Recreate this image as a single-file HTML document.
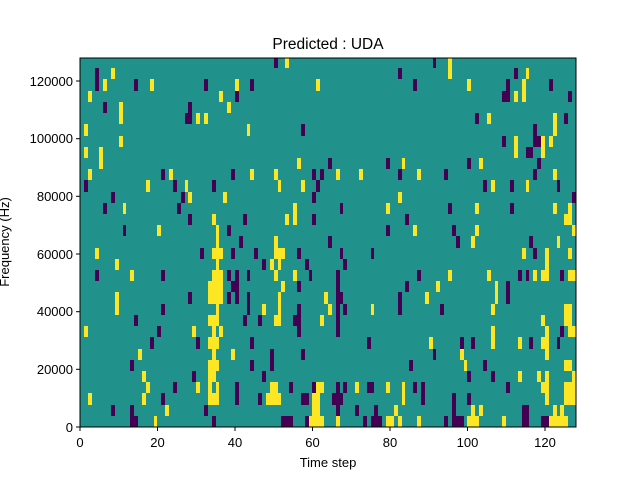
<!DOCTYPE html>
<html><head><meta charset="utf-8"><style>
html,body{margin:0;padding:0;background:#fff;}
svg{display:block;font-family:"Liberation Sans","DejaVu Sans",sans-serif;}
</style></head><body>
<svg width="640" height="480" viewBox="0 0 640 480" xmlns="http://www.w3.org/2000/svg">
<defs>
<clipPath id="c"><rect x="80" y="58" width="496" height="369"/></clipPath>
<style>.p{fill:#440154}.y{fill:#fde725}</style>
</defs>
<rect x="80" y="58" width="496" height="369" fill="#21918c"/>
<g clip-path="url(#c)">
<g transform="translate(80,58) scale(0.33333)">
<rect class="p" x="582" y="0" width="12" height="30"/>
<rect class="y" x="615" y="0" width="12" height="30"/>
<rect class="p" x="45" y="30" width="12" height="69"/>
<rect class="y" x="93" y="30" width="12" height="33"/>
<rect class="y" x="69" y="63" width="12" height="36"/>
<rect class="p" x="162" y="63" width="12" height="36"/>
<rect class="y" x="210" y="63" width="12" height="36"/>
<rect class="p" x="372" y="63" width="12" height="36"/>
<rect class="y" x="465" y="63" width="12" height="36"/>
<rect class="p" x="510" y="63" width="12" height="36"/>
<rect class="y" x="708" y="63" width="12" height="36"/>
<rect class="y" x="24" y="99" width="12" height="33"/>
<rect class="y" x="417" y="99" width="12" height="33"/>
<rect class="p" x="465" y="99" width="12" height="33"/>
<rect class="p" x="69" y="132" width="12" height="33"/>
<rect class="y" x="117" y="132" width="12" height="66"/>
<rect class="p" x="324" y="132" width="12" height="33"/>
<rect class="y" x="441" y="132" width="12" height="33"/>
<rect class="p" x="315" y="165" width="21" height="33"/>
<rect class="y" x="348" y="165" width="12" height="33"/>
<rect class="y" x="372" y="165" width="12" height="33"/>
<rect class="y" x="12" y="198" width="12" height="36"/>
<rect class="y" x="501" y="198" width="9" height="36"/>
<rect class="p" x="663" y="198" width="12" height="36"/>
<rect class="y" x="117" y="234" width="12" height="33"/>
<rect class="y" x="12" y="267" width="12" height="33"/>
<rect class="y" x="57" y="267" width="12" height="66"/>
<rect class="y" x="651" y="300" width="12" height="33"/>
<rect class="p" x="744" y="300" width="6" height="33"/>
<rect class="y" x="24" y="333" width="12" height="33"/>
<rect class="p" x="243" y="333" width="12" height="33"/>
<rect class="y" x="267" y="333" width="12" height="33"/>
<rect class="p" x="453" y="333" width="12" height="33"/>
<rect class="y" x="510" y="333" width="12" height="33"/>
<rect class="y" x="582" y="333" width="12" height="33"/>
<rect class="p" x="696" y="333" width="12" height="33"/>
<rect class="p" x="720" y="333" width="12" height="33"/>
<rect class="p" x="12" y="366" width="12" height="36"/>
<rect class="y" x="198" y="366" width="12" height="36"/>
<rect class="p" x="279" y="366" width="12" height="36"/>
<rect class="y" x="315" y="366" width="9" height="36"/>
<rect class="p" x="396" y="366" width="12" height="36"/>
<rect class="y" x="594" y="366" width="9" height="36"/>
<rect class="y" x="663" y="366" width="12" height="36"/>
<rect class="p" x="708" y="366" width="12" height="36"/>
<rect class="p" x="93" y="402" width="12" height="33"/>
<rect class="p" x="303" y="402" width="12" height="33"/>
<rect class="y" x="324" y="402" width="12" height="33"/>
<rect class="y" x="429" y="402" width="12" height="33"/>
<rect class="p" x="696" y="402" width="12" height="33"/>
<rect class="p" x="69" y="435" width="12" height="33"/>
<rect class="y" x="129" y="435" width="9" height="33"/>
<rect class="p" x="291" y="435" width="12" height="33"/>
<rect class="y" x="639" y="435" width="12" height="66"/>
<rect class="p" x="324" y="468" width="12" height="33"/>
<rect class="y" x="396" y="468" width="12" height="33"/>
<rect class="p" x="489" y="468" width="12" height="33"/>
<rect class="y" x="615" y="468" width="12" height="33"/>
<rect class="p" x="696" y="468" width="12" height="33"/>
<rect class="p" x="129" y="501" width="9" height="33"/>
<rect class="y" x="231" y="501" width="12" height="33"/>
<rect class="y" x="408" y="501" width="9" height="54"/>
<rect class="p" x="441" y="501" width="12" height="33"/>
<rect class="p" x="477" y="534" width="12" height="21"/>
<rect class="y" x="582" y="534" width="12" height="21"/>
<rect class="p" x="744" y="534" width="6" height="21"/>
</g>
<g transform="translate(328,58) scale(0.33333)">
<rect class="p" x="315" y="0" width="9" height="30"/>
<rect class="y" x="360" y="0" width="12" height="63"/>
<rect class="p" x="210" y="30" width="12" height="33"/>
<rect class="p" x="558" y="30" width="12" height="33"/>
<rect class="y" x="594" y="30" width="9" height="33"/>
<rect class="p" x="255" y="63" width="12" height="36"/>
<rect class="y" x="417" y="63" width="12" height="36"/>
<rect class="p" x="534" y="63" width="12" height="36"/>
<rect class="p" x="522" y="99" width="24" height="33"/>
<rect class="y" x="582" y="63" width="12" height="69"/>
<rect class="p" x="663" y="63" width="12" height="36"/>
<rect class="y" x="558" y="99" width="12" height="33"/>
<rect class="p" x="720" y="99" width="12" height="33"/>
<rect class="p" x="441" y="165" width="12" height="33"/>
<rect class="y" x="477" y="165" width="12" height="33"/>
<rect class="y" x="675" y="165" width="12" height="69"/>
<rect class="p" x="708" y="165" width="12" height="33"/>
<rect class="p" x="615" y="198" width="12" height="36"/>
<rect class="p" x="522" y="234" width="12" height="33"/>
<rect class="y" x="558" y="234" width="12" height="66"/>
<rect class="p" x="615" y="234" width="24" height="33"/>
<rect class="y" x="639" y="234" width="12" height="66"/>
<rect class="y" x="663" y="234" width="12" height="33"/>
<rect class="p" x="594" y="267" width="21" height="33"/>
<rect class="p" x="0" y="300" width="12" height="33"/>
<rect class="p" x="174" y="300" width="12" height="33"/>
<rect class="y" x="222" y="300" width="9" height="33"/>
<rect class="p" x="417" y="300" width="12" height="33"/>
<rect class="y" x="453" y="300" width="12" height="33"/>
<rect class="p" x="627" y="300" width="12" height="33"/>
<rect class="y" x="24" y="333" width="12" height="33"/>
<rect class="y" x="93" y="333" width="12" height="33"/>
<rect class="p" x="210" y="333" width="12" height="33"/>
<rect class="y" x="267" y="333" width="12" height="33"/>
<rect class="p" x="348" y="333" width="12" height="33"/>
<rect class="p" x="615" y="333" width="12" height="33"/>
<rect class="y" x="675" y="333" width="12" height="33"/>
<rect class="p" x="465" y="366" width="12" height="36"/>
<rect class="y" x="489" y="366" width="12" height="36"/>
<rect class="p" x="546" y="366" width="12" height="36"/>
<rect class="y" x="594" y="366" width="9" height="36"/>
<rect class="p" x="687" y="366" width="9" height="36"/>
<rect class="y" x="210" y="402" width="12" height="33"/>
<rect class="p" x="732" y="402" width="12" height="33"/>
<rect class="p" x="36" y="435" width="9" height="33"/>
<rect class="y" x="174" y="435" width="12" height="33"/>
<rect class="p" x="360" y="435" width="12" height="33"/>
<rect class="y" x="441" y="435" width="12" height="33"/>
<rect class="p" x="546" y="435" width="12" height="33"/>
<rect class="y" x="675" y="435" width="12" height="33"/>
<rect class="y" x="720" y="435" width="12" height="33"/>
<rect class="y" x="708" y="468" width="24" height="33"/>
<rect class="p" x="231" y="468" width="12" height="33"/>
<rect class="p" x="174" y="501" width="12" height="33"/>
<rect class="y" x="255" y="501" width="12" height="33"/>
<rect class="p" x="372" y="501" width="12" height="33"/>
<rect class="y" x="441" y="501" width="12" height="33"/>
<rect class="y" x="732" y="501" width="12" height="33"/>
<rect class="p" x="0" y="534" width="12" height="21"/>
<rect class="p" x="384" y="534" width="12" height="21"/>
<rect class="y" x="429" y="534" width="12" height="21"/>
<rect class="p" x="603" y="534" width="12" height="21"/>
<rect class="y" x="687" y="534" width="9" height="21"/>
</g>
<g transform="translate(80,242) scale(0.33333)">
<rect class="y" x="408" y="0" width="9" height="18"/>
<rect class="p" x="477" y="0" width="12" height="18"/>
<rect class="y" x="582" y="0" width="12" height="18"/>
<rect class="p" x="744" y="0" width="6" height="18"/>
<rect class="y" x="45" y="18" width="12" height="33"/>
<rect class="p" x="360" y="18" width="12" height="33"/>
<rect class="y" x="396" y="18" width="33" height="33"/>
<rect class="p" x="453" y="18" width="12" height="33"/>
<rect class="p" x="522" y="18" width="12" height="33"/>
<rect class="y" x="582" y="18" width="33" height="33"/>
<rect class="p" x="651" y="18" width="12" height="33"/>
<rect class="y" x="105" y="51" width="12" height="33"/>
<rect class="y" x="408" y="51" width="9" height="33"/>
<rect class="p" x="546" y="51" width="12" height="33"/>
<rect class="y" x="570" y="51" width="12" height="33"/>
<rect class="y" x="594" y="51" width="9" height="33"/>
<rect class="p" x="675" y="51" width="12" height="33"/>
<rect class="p" x="45" y="84" width="12" height="33"/>
<rect class="y" x="150" y="84" width="12" height="33"/>
<rect class="p" x="243" y="84" width="12" height="33"/>
<rect class="y" x="396" y="84" width="33" height="33"/>
<rect class="p" x="441" y="84" width="12" height="33"/>
<rect class="p" x="465" y="84" width="12" height="33"/>
<rect class="p" x="501" y="84" width="9" height="33"/>
<rect class="y" x="582" y="84" width="12" height="33"/>
<rect class="y" x="639" y="84" width="12" height="33"/>
<rect class="p" x="687" y="84" width="9" height="33"/>
<rect class="y" x="384" y="117" width="45" height="69"/>
<rect class="p" x="453" y="117" width="24" height="33"/>
<rect class="y" x="603" y="117" width="12" height="33"/>
<rect class="p" x="651" y="117" width="12" height="33"/>
<rect class="y" x="105" y="150" width="12" height="69"/>
<rect class="p" x="324" y="150" width="12" height="36"/>
<rect class="p" x="441" y="150" width="12" height="36"/>
<rect class="p" x="465" y="150" width="12" height="36"/>
<rect class="p" x="501" y="150" width="9" height="69"/>
<rect class="y" x="594" y="150" width="9" height="69"/>
<rect class="y" x="732" y="150" width="12" height="36"/>
<rect class="y" x="408" y="186" width="9" height="33"/>
<rect class="p" x="243" y="186" width="12" height="33"/>
<rect class="y" x="546" y="186" width="12" height="33"/>
<rect class="p" x="651" y="186" width="12" height="33"/>
<rect class="y" x="744" y="186" width="6" height="33"/>
<rect class="p" x="162" y="219" width="12" height="33"/>
<rect class="y" x="384" y="219" width="33" height="33"/>
<rect class="p" x="489" y="219" width="12" height="33"/>
<rect class="p" x="534" y="219" width="12" height="33"/>
<rect class="y" x="582" y="219" width="21" height="33"/>
<rect class="p" x="639" y="219" width="24" height="33"/>
<rect class="y" x="720" y="219" width="12" height="33"/>
<rect class="y" x="12" y="252" width="12" height="33"/>
<rect class="p" x="231" y="252" width="12" height="33"/>
<rect class="y" x="336" y="252" width="12" height="33"/>
<rect class="y" x="396" y="252" width="12" height="33"/>
<rect class="y" x="417" y="252" width="12" height="33"/>
<rect class="p" x="651" y="252" width="12" height="33"/>
<rect class="p" x="210" y="285" width="12" height="36"/>
<rect class="p" x="348" y="285" width="12" height="36"/>
<rect class="y" x="384" y="285" width="33" height="36"/>
<rect class="p" x="510" y="285" width="12" height="36"/>
<rect class="y" x="174" y="321" width="12" height="33"/>
<rect class="y" x="396" y="321" width="12" height="33"/>
<rect class="y" x="453" y="321" width="12" height="33"/>
<rect class="p" x="570" y="321" width="12" height="66"/>
<rect class="p" x="663" y="321" width="12" height="33"/>
<rect class="p" x="150" y="354" width="12" height="33"/>
<rect class="y" x="384" y="354" width="33" height="33"/>
<rect class="p" x="510" y="354" width="12" height="33"/>
<rect class="y" x="186" y="387" width="12" height="33"/>
<rect class="p" x="336" y="387" width="12" height="33"/>
<rect class="y" x="384" y="387" width="24" height="33"/>
<rect class="p" x="546" y="387" width="12" height="33"/>
<rect class="y" x="198" y="420" width="12" height="33"/>
<rect class="p" x="279" y="420" width="12" height="33"/>
<rect class="y" x="348" y="420" width="12" height="33"/>
<rect class="y" x="384" y="420" width="12" height="33"/>
<rect class="y" x="408" y="420" width="9" height="33"/>
<rect class="p" x="465" y="420" width="12" height="69"/>
<rect class="y" x="570" y="420" width="24" height="33"/>
<rect class="p" x="627" y="420" width="12" height="33"/>
<rect class="p" x="696" y="420" width="12" height="33"/>
<rect class="y" x="708" y="420" width="24" height="33"/>
<rect class="y" x="24" y="453" width="12" height="36"/>
<rect class="y" x="186" y="453" width="12" height="36"/>
<rect class="p" x="243" y="453" width="12" height="36"/>
<rect class="y" x="384" y="453" width="33" height="36"/>
<rect class="p" x="534" y="453" width="12" height="36"/>
<rect class="y" x="558" y="453" width="45" height="36"/>
<rect class="p" x="663" y="453" width="24" height="36"/>
<rect class="y" x="696" y="453" width="24" height="102"/>
<rect class="p" x="93" y="489" width="12" height="33"/>
<rect class="p" x="150" y="489" width="12" height="66"/>
<rect class="y" x="255" y="489" width="12" height="33"/>
<rect class="p" x="372" y="489" width="12" height="33"/>
<rect class="p" x="150" y="522" width="24" height="33"/>
<rect class="y" x="222" y="522" width="9" height="33"/>
<rect class="p" x="396" y="522" width="12" height="33"/>
<rect class="p" x="603" y="522" width="36" height="33"/>
<rect class="p" x="675" y="522" width="12" height="33"/>
<rect class="y" x="687" y="522" width="45" height="33"/>
</g>
<g transform="translate(328,242) scale(0.33333)">
<rect class="p" x="0" y="0" width="12" height="18"/>
<rect class="p" x="384" y="0" width="12" height="18"/>
<rect class="y" x="429" y="0" width="12" height="18"/>
<rect class="p" x="603" y="0" width="12" height="18"/>
<rect class="y" x="687" y="0" width="9" height="18"/>
<rect class="p" x="36" y="18" width="9" height="33"/>
<rect class="p" x="129" y="18" width="9" height="33"/>
<rect class="y" x="582" y="18" width="12" height="33"/>
<rect class="p" x="615" y="18" width="12" height="33"/>
<rect class="y" x="651" y="18" width="12" height="99"/>
<rect class="y" x="720" y="18" width="12" height="33"/>
<rect class="p" x="45" y="51" width="12" height="33"/>
<rect class="p" x="24" y="84" width="12" height="201"/>
<rect class="p" x="24" y="150" width="21" height="36"/>
<rect class="p" x="267" y="84" width="12" height="33"/>
<rect class="y" x="360" y="84" width="12" height="33"/>
<rect class="y" x="477" y="84" width="12" height="33"/>
<rect class="p" x="570" y="84" width="12" height="33"/>
<rect class="p" x="594" y="84" width="9" height="33"/>
<rect class="y" x="615" y="84" width="12" height="33"/>
<rect class="y" x="639" y="84" width="24" height="33"/>
<rect class="p" x="696" y="84" width="12" height="33"/>
<rect class="y" x="720" y="84" width="24" height="33"/>
<rect class="p" x="231" y="117" width="12" height="33"/>
<rect class="y" x="324" y="117" width="12" height="33"/>
<rect class="y" x="501" y="117" width="9" height="69"/>
<rect class="p" x="534" y="117" width="12" height="69"/>
<rect class="p" x="210" y="150" width="12" height="69"/>
<rect class="y" x="291" y="150" width="12" height="36"/>
<rect class="y" x="0" y="186" width="12" height="33"/>
<rect class="p" x="45" y="186" width="12" height="33"/>
<rect class="y" x="129" y="186" width="9" height="33"/>
<rect class="p" x="336" y="186" width="12" height="33"/>
<rect class="y" x="489" y="186" width="12" height="33"/>
<rect class="y" x="708" y="186" width="24" height="66"/>
<rect class="y" x="720" y="252" width="24" height="33"/>
<rect class="y" x="639" y="219" width="12" height="33"/>
<rect class="y" x="489" y="252" width="12" height="69"/>
<rect class="y" x="651" y="252" width="12" height="102"/>
<rect class="p" x="696" y="252" width="12" height="33"/>
<rect class="p" x="117" y="285" width="12" height="36"/>
<rect class="y" x="303" y="285" width="12" height="36"/>
<rect class="p" x="396" y="285" width="12" height="36"/>
<rect class="p" x="429" y="285" width="12" height="36"/>
<rect class="y" x="570" y="285" width="12" height="36"/>
<rect class="p" x="603" y="285" width="12" height="36"/>
<rect class="y" x="639" y="285" width="12" height="36"/>
<rect class="p" x="687" y="285" width="9" height="36"/>
<rect class="p" x="315" y="321" width="9" height="33"/>
<rect class="y" x="396" y="321" width="12" height="33"/>
<rect class="p" x="243" y="354" width="12" height="33"/>
<rect class="y" x="408" y="354" width="9" height="33"/>
<rect class="p" x="465" y="354" width="12" height="33"/>
<rect class="y" x="708" y="354" width="24" height="33"/>
<rect class="p" x="417" y="387" width="12" height="33"/>
<rect class="p" x="489" y="387" width="12" height="33"/>
<rect class="y" x="570" y="387" width="12" height="33"/>
<rect class="y" x="627" y="387" width="12" height="33"/>
<rect class="y" x="651" y="387" width="12" height="102"/>
<rect class="y" x="732" y="387" width="12" height="33"/>
<rect class="p" x="24" y="420" width="12" height="33"/>
<rect class="p" x="12" y="453" width="33" height="36"/>
<rect class="p" x="24" y="489" width="12" height="33"/>
<rect class="p" x="45" y="420" width="12" height="33"/>
<rect class="y" x="81" y="420" width="12" height="33"/>
<rect class="p" x="117" y="420" width="21" height="33"/>
<rect class="y" x="174" y="420" width="12" height="33"/>
<rect class="y" x="222" y="420" width="9" height="69"/>
<rect class="p" x="255" y="420" width="12" height="33"/>
<rect class="p" x="279" y="420" width="12" height="69"/>
<rect class="p" x="534" y="420" width="12" height="33"/>
<rect class="y" x="639" y="420" width="24" height="33"/>
<rect class="y" x="708" y="420" width="36" height="69"/>
<rect class="p" x="372" y="453" width="12" height="102"/>
<rect class="p" x="417" y="453" width="12" height="36"/>
<rect class="p" x="81" y="489" width="12" height="33"/>
<rect class="p" x="138" y="489" width="12" height="33"/>
<rect class="y" x="198" y="489" width="12" height="33"/>
<rect class="y" x="429" y="489" width="12" height="33"/>
<rect class="y" x="453" y="489" width="12" height="33"/>
<rect class="p" x="582" y="489" width="21" height="66"/>
<rect class="y" x="675" y="489" width="12" height="33"/>
<rect class="y" x="696" y="489" width="12" height="33"/>
<rect class="y" x="24" y="522" width="12" height="33"/>
<rect class="p" x="105" y="522" width="12" height="33"/>
<rect class="p" x="129" y="522" width="33" height="33"/>
<rect class="y" x="174" y="522" width="24" height="33"/>
<rect class="y" x="210" y="522" width="12" height="33"/>
<rect class="y" x="267" y="522" width="12" height="33"/>
<rect class="p" x="348" y="522" width="12" height="33"/>
<rect class="p" x="384" y="522" width="24" height="33"/>
<rect class="y" x="417" y="522" width="36" height="33"/>
<rect class="y" x="522" y="522" width="12" height="33"/>
<rect class="p" x="639" y="522" width="24" height="33"/>
<rect class="y" x="663" y="522" width="57" height="33"/>
</g>
</g>
<rect x="80" y="58" width="496" height="369" fill="none" stroke="#000" stroke-width="1"/>
<g stroke="#000" stroke-width="1">
<line x1="80" y1="427" x2="80" y2="431"/><line x1="157.5" y1="427" x2="157.5" y2="431"/><line x1="235" y1="427" x2="235" y2="431"/><line x1="312.5" y1="427" x2="312.5" y2="431"/><line x1="390" y1="427" x2="390" y2="431"/><line x1="467.5" y1="427" x2="467.5" y2="431"/><line x1="545" y1="427" x2="545" y2="431"/>
<line x1="76" y1="427" x2="80" y2="427"/><line x1="76" y1="369.3" x2="80" y2="369.3"/><line x1="76" y1="311.7" x2="80" y2="311.7"/><line x1="76" y1="254" x2="80" y2="254"/><line x1="76" y1="196.3" x2="80" y2="196.3"/><line x1="76" y1="138.7" x2="80" y2="138.7"/><line x1="76" y1="81" x2="80" y2="81"/>
</g>
<g font-size="13" fill="#000" text-anchor="middle">
<text x="80" y="447">0</text><text x="157.5" y="447">20</text><text x="235" y="447">40</text><text x="312.5" y="447">60</text><text x="390" y="447">80</text><text x="467.5" y="447">100</text><text x="545" y="447">120</text>
</g>
<g font-size="13" fill="#000" text-anchor="end">
<text x="73" y="432">0</text><text x="73" y="374">20000</text><text x="73" y="316">40000</text><text x="73" y="259">60000</text><text x="73" y="201">80000</text><text x="73" y="143">100000</text><text x="73" y="86">120000</text>
</g>
<text x="328" y="467" font-size="13" text-anchor="middle">Time step</text>
<text x="328" y="49" font-size="15.5" text-anchor="middle">Predicted : UDA</text>
<text transform="translate(9,242) rotate(-90)" font-size="13" text-anchor="middle">Frequency (Hz)</text>
</svg>
</body></html>
